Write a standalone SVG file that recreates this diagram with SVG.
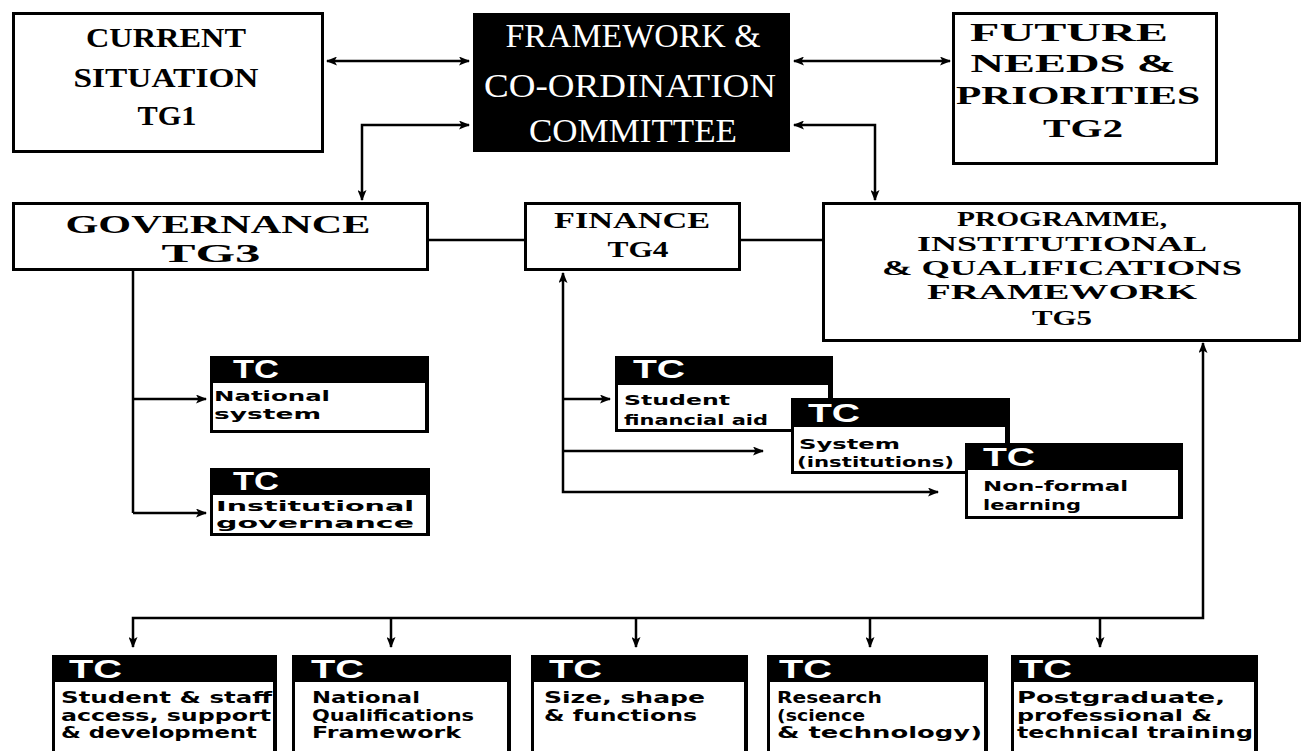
<svg xmlns="http://www.w3.org/2000/svg" width="1305" height="751" viewBox="0 0 1305 751">
<style>
.box{fill:#fff;stroke:#000;stroke-width:3}
.ser{font-family:"Liberation Serif","Times New Roman",serif;font-weight:bold;fill:#000;text-anchor:middle}
.serw{font-family:"Liberation Serif","Times New Roman",serif;fill:#fff;text-anchor:middle}
.tc{font-family:"Liberation Sans",Arial,sans-serif;font-weight:bold;font-size:25px;fill:#fff}
.bd{font-family:"DejaVu Sans","Liberation Sans",sans-serif;font-weight:bold;font-size:14px;fill:#000}
.bd2{font-family:"DejaVu Sans","Liberation Sans",sans-serif;font-weight:bold;font-size:15px;fill:#000}
.ln{fill:none;stroke:#000;stroke-width:2.5}
</style>
<defs>
<marker id="ah" markerUnits="userSpaceOnUse" markerWidth="11" markerHeight="9" refX="10" refY="4.5" orient="auto-start-reverse" viewBox="0 0 11 9">
<path d="M0,0 L11,4.5 L0,9 L2.5,4.5 z" fill="#000"/>
</marker>
</defs>
<rect width="1305" height="751" fill="#fff"/>

<g id="connectors">
<line class="ln" x1="327" y1="61" x2="469" y2="61" marker-start="url(#ah)" marker-end="url(#ah)"/>
<line class="ln" x1="794" y1="61" x2="950" y2="61" marker-start="url(#ah)" marker-end="url(#ah)"/>
<polyline class="ln" points="469,125 362,125 362,200" marker-start="url(#ah)" marker-end="url(#ah)"/>
<polyline class="ln" points="794,125 875,125 875,200" marker-start="url(#ah)" marker-end="url(#ah)"/>
<line class="ln" x1="428" y1="240" x2="525" y2="240"/>
<line class="ln" x1="740" y1="240" x2="823" y2="240"/>
<line class="ln" x1="133" y1="270" x2="133" y2="513"/>
<line class="ln" x1="133" y1="399" x2="206" y2="399" marker-end="url(#ah)"/>
<line class="ln" x1="133" y1="513" x2="206" y2="513" marker-end="url(#ah)"/>
<polyline class="ln" points="563,273 563,492 938,492" marker-start="url(#ah)" marker-end="url(#ah)"/>
<line class="ln" x1="563" y1="399" x2="610" y2="399" marker-end="url(#ah)"/>
<line class="ln" x1="563" y1="451" x2="763" y2="451" marker-end="url(#ah)"/>
<polyline class="ln" points="1203,343 1203,618 133,618 133,647" marker-start="url(#ah)" marker-end="url(#ah)"/>
<line class="ln" x1="391" y1="618" x2="391" y2="647" marker-end="url(#ah)"/>
<line class="ln" x1="636" y1="618" x2="636" y2="647" marker-end="url(#ah)"/>
<line class="ln" x1="870" y1="618" x2="870" y2="647" marker-end="url(#ah)"/>
<line class="ln" x1="1100" y1="618" x2="1100" y2="647" marker-end="url(#ah)"/>
</g>

<g id="tg1">
<rect class="box" x="13.5" y="13.5" width="309" height="138"/>
<text class="ser" font-size="28" x="166" y="47" textLength="160" lengthAdjust="spacingAndGlyphs">CURRENT</text>
<text class="ser" font-size="28" x="166" y="87" textLength="185" lengthAdjust="spacingAndGlyphs">SITUATION</text>
<text class="ser" font-size="28" x="167" y="125" textLength="59" lengthAdjust="spacingAndGlyphs">TG1</text>
</g>

<g id="committee">
<rect x="473" y="13" width="317" height="139" fill="#000"/>
<text class="serw" font-size="34" x="633" y="47" textLength="255" lengthAdjust="spacingAndGlyphs">FRAMEWORK &amp;</text>
<text class="serw" font-size="34" x="630" y="97" textLength="292" lengthAdjust="spacingAndGlyphs">CO-ORDINATION</text>
<text class="serw" font-size="34" x="633" y="142" textLength="208" lengthAdjust="spacingAndGlyphs">COMMITTEE</text>
</g>

<g id="tg2">
<rect class="box" x="953.5" y="13.5" width="263" height="150"/>
<text class="ser" font-size="26" x="1069" y="41" textLength="198" lengthAdjust="spacingAndGlyphs">FUTURE</text>
<text class="ser" font-size="26" x="1073" y="72" textLength="205" lengthAdjust="spacingAndGlyphs">NEEDS &amp;</text>
<text class="ser" font-size="26" x="1078" y="104" textLength="244" lengthAdjust="spacingAndGlyphs">PRIORITIES</text>
<text class="ser" font-size="26" x="1083" y="137" textLength="80" lengthAdjust="spacingAndGlyphs">TG2</text>
</g>

<g id="tg3">
<rect class="box" x="13.5" y="203.5" width="414" height="66"/>
<text class="ser" font-size="26" x="218" y="233" textLength="305" lengthAdjust="spacingAndGlyphs">GOVERNANCE</text>
<text class="ser" font-size="26" x="211" y="262" textLength="99" lengthAdjust="spacingAndGlyphs">TG3</text>
</g>

<g id="tg4">
<rect class="box" x="525.5" y="203.5" width="214" height="66"/>
<text class="ser" font-size="23" x="632" y="228" textLength="156" lengthAdjust="spacingAndGlyphs">FINANCE</text>
<text class="ser" font-size="23" x="638" y="257" textLength="61" lengthAdjust="spacingAndGlyphs">TG4</text>
</g>

<g id="tg5">
<rect class="box" x="823.5" y="203.5" width="476" height="137"/>
<text class="ser" font-size="20" x="1062" y="226" textLength="210" lengthAdjust="spacingAndGlyphs">PROGRAMME,</text>
<text class="ser" font-size="20" x="1062" y="251" textLength="290" lengthAdjust="spacingAndGlyphs">INSTITUTIONAL</text>
<text class="ser" font-size="20" x="1062" y="275" textLength="360" lengthAdjust="spacingAndGlyphs">&amp; QUALIFICATIONS</text>
<text class="ser" font-size="20" x="1062" y="299" textLength="270" lengthAdjust="spacingAndGlyphs">FRAMEWORK</text>
<text class="ser" font-size="20" x="1062" y="325" textLength="60" lengthAdjust="spacingAndGlyphs">TG5</text>
</g>

<g id="tc-national">
<rect x="210" y="356" width="219" height="77" fill="#000"/>
<rect x="213" y="383" width="212" height="47" fill="#fff"/>
<text class="tc" x="233" y="378" textLength="46" lengthAdjust="spacingAndGlyphs">TC</text>
<text class="bd" x="214" y="401" textLength="116" lengthAdjust="spacingAndGlyphs">National</text>
<text class="bd" x="214" y="419" textLength="107" lengthAdjust="spacingAndGlyphs">system</text>
</g>

<g id="tc-institutional">
<rect x="210" y="468" width="220" height="68" fill="#000"/>
<rect x="213" y="495" width="213" height="38" fill="#fff"/>
<text class="tc" x="233" y="490" textLength="46" lengthAdjust="spacingAndGlyphs">TC</text>
<text class="bd" x="216" y="511" textLength="198" lengthAdjust="spacingAndGlyphs">Institutional</text>
<text class="bd" x="216" y="528" textLength="198" lengthAdjust="spacingAndGlyphs">governance</text>
</g>

<g id="tc-student-aid">
<rect x="615" y="356" width="218" height="76" fill="#000"/>
<rect x="618" y="385" width="210" height="44" fill="#fff"/>
<text class="tc" x="633" y="378" textLength="52" lengthAdjust="spacingAndGlyphs">TC</text>
<text class="bd" x="624" y="405" textLength="106" lengthAdjust="spacingAndGlyphs">Student</text>
<text class="bd" x="624" y="425" textLength="144" lengthAdjust="spacingAndGlyphs">financial aid</text>
</g>

<g id="tc-system">
<rect x="791" y="398" width="219" height="76" fill="#000"/>
<rect x="794" y="427" width="211" height="44" fill="#fff"/>
<text class="tc" x="808" y="422" textLength="52" lengthAdjust="spacingAndGlyphs">TC</text>
<text class="bd" x="799" y="449" textLength="101" lengthAdjust="spacingAndGlyphs">System</text>
<text class="bd" x="797" y="467" textLength="157" lengthAdjust="spacingAndGlyphs">(institutions)</text>
</g>

<g id="tc-nonformal">
<rect x="965" y="443" width="218" height="76" fill="#000"/>
<rect x="968" y="470" width="210" height="46" fill="#fff"/>
<text class="tc" x="983" y="466" textLength="52" lengthAdjust="spacingAndGlyphs">TC</text>
<text class="bd" x="983" y="491" textLength="145" lengthAdjust="spacingAndGlyphs">Non-formal</text>
<text class="bd" x="983" y="510" textLength="98" lengthAdjust="spacingAndGlyphs">learning</text>
</g>

<g id="tc-access">
<rect x="52" y="655" width="225" height="110" fill="#000"/>
<rect x="55" y="682" width="218" height="90" fill="#fff"/>
<text class="tc" x="69" y="678" textLength="53" lengthAdjust="spacingAndGlyphs">TC</text>
<text class="bd2" x="61" y="703" textLength="211" lengthAdjust="spacingAndGlyphs">Student &amp; staff</text>
<text class="bd2" x="61" y="721" textLength="210" lengthAdjust="spacingAndGlyphs">access, support</text>
<text class="bd2" x="61" y="738" textLength="196" lengthAdjust="spacingAndGlyphs">&amp; development</text>
</g>

<g id="tc-nqf">
<rect x="292" y="655" width="219" height="110" fill="#000"/>
<rect x="295" y="682" width="212" height="90" fill="#fff"/>
<text class="tc" x="311" y="678" textLength="53" lengthAdjust="spacingAndGlyphs">TC</text>
<text class="bd2" x="312" y="703" textLength="108" lengthAdjust="spacingAndGlyphs">National</text>
<text class="bd2" x="312" y="721" textLength="162" lengthAdjust="spacingAndGlyphs">Qualifications</text>
<text class="bd2" x="312" y="738" textLength="149" lengthAdjust="spacingAndGlyphs">Framework</text>
</g>

<g id="tc-size">
<rect x="531" y="655" width="217" height="110" fill="#000"/>
<rect x="534" y="682" width="210" height="90" fill="#fff"/>
<text class="tc" x="549" y="678" textLength="53" lengthAdjust="spacingAndGlyphs">TC</text>
<text class="bd2" x="544" y="703" textLength="161" lengthAdjust="spacingAndGlyphs">Size, shape</text>
<text class="bd2" x="544" y="721" textLength="153" lengthAdjust="spacingAndGlyphs">&amp; functions</text>
</g>

<g id="tc-research">
<rect x="767" y="655" width="221" height="110" fill="#000"/>
<rect x="770" y="682" width="214" height="90" fill="#fff"/>
<text class="tc" x="779" y="678" textLength="53" lengthAdjust="spacingAndGlyphs">TC</text>
<text class="bd2" x="777" y="703" textLength="105" lengthAdjust="spacingAndGlyphs">Research</text>
<text class="bd2" x="777" y="721" textLength="88" lengthAdjust="spacingAndGlyphs">(science</text>
<text class="bd2" x="777" y="738" textLength="205" lengthAdjust="spacingAndGlyphs">&amp; technology)</text>
</g>

<g id="tc-postgrad">
<rect x="1011" y="655" width="247" height="110" fill="#000"/>
<rect x="1014" y="682" width="240" height="90" fill="#fff"/>
<text class="tc" x="1019" y="678" textLength="53" lengthAdjust="spacingAndGlyphs">TC</text>
<text class="bd2" x="1017" y="703" textLength="208" lengthAdjust="spacingAndGlyphs">Postgraduate,</text>
<text class="bd2" x="1017" y="721" textLength="195" lengthAdjust="spacingAndGlyphs">professional &amp;</text>
<text class="bd2" x="1017" y="738" textLength="236" lengthAdjust="spacingAndGlyphs">technical training</text>
</g>
</svg>
